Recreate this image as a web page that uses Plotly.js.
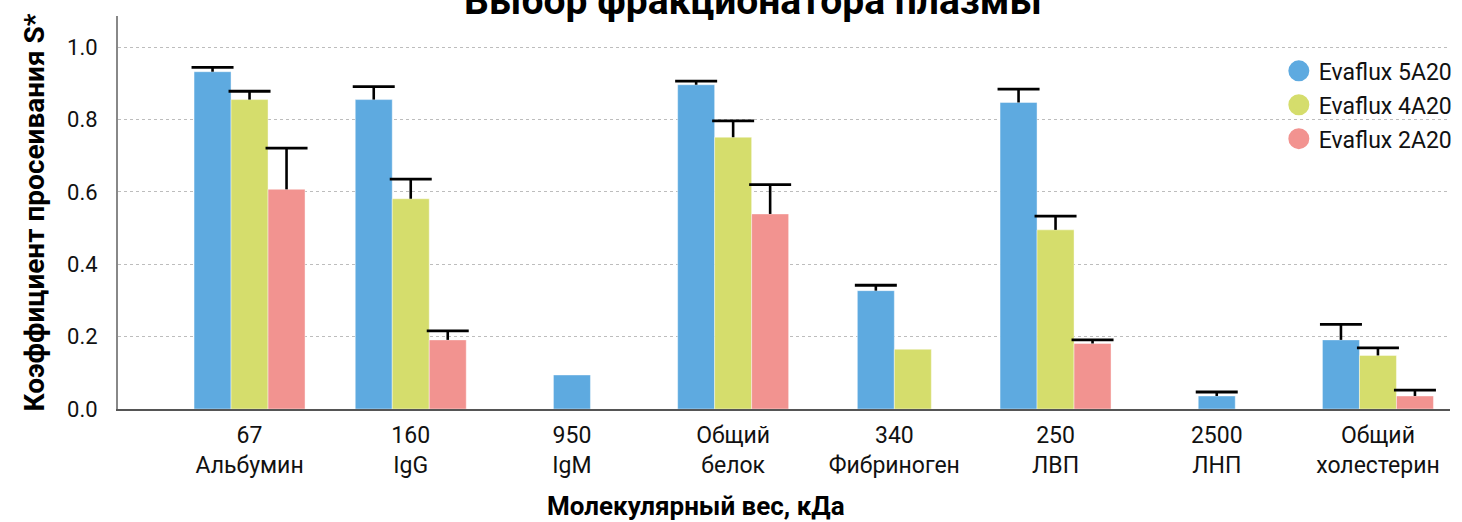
<!DOCTYPE html>
<html>
<head>
<meta charset="utf-8">
<script src="https://cdn.plot.ly/plotly-3.0.1.min.js"></script>
<style>html,body{margin:0;padding:0;background:#fff;}#chart{width:1462px;height:522px;}</style>
</head>
<body>
<div id="chart"></div>
<script>
const categories = ['67<br>Альбумин', '160<br>IgG', '950<br>IgM', 'Общий<br>белок', '340<br>Фибриноген', '250<br>ЛВП', '2500<br>ЛНП', 'Общий<br>холестерин'];
const seriesNames = ['Evaflux 5A20', 'Evaflux 4A20', 'Evaflux 2A20'];
const values5A20 = [0.932, 0.855, 0.094, 0.896, 0.327, 0.847, 0.036, 0.191];
const errors5A20 = [0.012, 0.036, null, 0.010, 0.015, 0.037, 0.011, 0.043];
const values4A20 = [0.855, 0.581, null, 0.751, 0.165, 0.495, null, 0.148];
const errors4A20 = [0.023, 0.054, null, 0.045, null, 0.038, null, 0.021];
const values2A20 = [0.607, 0.191, null, 0.539, null, 0.181, null, 0.036];
const errors2A20 = [0.114, 0.025, null, 0.081, null, 0.010, null, 0.016];
const colors = ['#5EAAE0', '#D5DD6C', '#F29390'];

const allValues = [values5A20, values4A20, values2A20];
const allErrors = [errors5A20, errors4A20, errors2A20];
const barW = 0.2295;
const idx = categories.map((c, i) => i);

// centre the bars that are present in each category
const offsets = allValues.map(() => []);
idx.forEach(ci => {
  const present = [];
  allValues.forEach((arr, si) => { if (arr[ci] !== null) present.push(si); });
  present.forEach((si, k) => { offsets[si][ci] = -present.length * barW / 2 + k * barW; });
  allValues.forEach((arr, si) => { if (arr[ci] === null) offsets[si][ci] = 0; });
});

const traces = [];
allValues.forEach((vals, si) => {
  const errs = allErrors[si].map(e => (e === null ? NaN : e));
  traces.push({
    type: 'bar',
    x: idx,
    y: vals,
    offset: offsets[si],
    width: barW,
    marker: {color: colors[si], line: {width: 0.6, color: 'rgba(255,255,255,0.7)'}},
    error_y: {type: 'data', symmetric: false, array: errs, arrayminus: errs.map(() => 0),
              color: '#000', thickness: 2.6, width: 0},
    showlegend: false,
    hoverinfo: 'skip'
  });
});
// error bar caps
allValues.forEach((vals, si) => {
  const cx = [], cy = [];
  vals.forEach((v, ci) => {
    const e = allErrors[si][ci];
    if (v !== null && e !== null) { cx.push(ci + offsets[si][ci] + barW / 2); cy.push(v + e); }
  });
  traces.push({
    type: 'scatter', mode: 'markers', x: cx, y: cy, showlegend: false, hoverinfo: 'skip',
    marker: {symbol: 'line-ew', size: 30, color: '#000', line: {width: 2.8, color: '#000'}}
  });
});
seriesNames.forEach((n, si) => {
  traces.push({
    type: 'scatter', mode: 'markers', x: [null], y: [null], name: n,
    legendgroup: 'g' + si,
    marker: {symbol: 'circle', size: 16, color: colors[si], line: {width: 6, color: colors[si]}}
  });
});

const layout = {
  width: 1462, height: 522,
  margin: {l: 118, r: 12, t: 16, b: 113, autoexpand: false},
  paper_bgcolor: '#fff', plot_bgcolor: '#fff',
  font: {family: 'Roboto, sans-serif', color: '#111'},
  barmode: 'overlay',
  title: {text: '<b>Выбор фракционатора плазмы</b>', font: {size: 39, color: '#000', family: 'Roboto, sans-serif'},
          x: 0.515, xanchor: 'center', xref: 'container', y: 1.0, yanchor: 'middle', yref: 'container'},
  xaxis: {
    range: [-0.816, 7.447], tickmode: 'array', tickvals: idx, ticktext: categories,
    showgrid: false, showline: true, linecolor: '#555', linewidth: 2,
    ticks: '', tickfont: {size: 23, color: '#111'}, ticklabelstandoff: 4, zeroline: false
  },
  yaxis: {
    range: [0, 1.086], dtick: 0.2, tickformat: '.1f',
    showgrid: true, gridcolor: '#bdbdbd', gridwidth: 1, griddash: '3px,3px',
    showline: true, linecolor: '#888', linewidth: 2, zeroline: false,
    ticks: '', tickfont: {size: 22, color: '#111'}, ticklabelstandoff: 14,
    title: {text: '<b>Коэффициент просеивания S*</b>', font: {size: 28, color: '#000'}, standoff: 14}
  },
  legend: {x: 0.8715, y: 0.915, xanchor: 'left', yanchor: 'top', bgcolor: 'rgba(0,0,0,0)',
           font: {size: 23, color: '#111'}, tracegroupgap: 1, itemsizing: 'trace'},
  annotations: [{
    text: '<b>Молекулярный вес, кДа</b>', xref: 'paper', yref: 'paper', x: 0.434, y: -0.247,
    xanchor: 'center', yanchor: 'middle', showarrow: false, font: {size: 26, color: '#000'}
  }]
};

Plotly.newPlot('chart', traces, layout, {displayModeBar: false, staticPlot: true});
</script>
</body>
</html>
